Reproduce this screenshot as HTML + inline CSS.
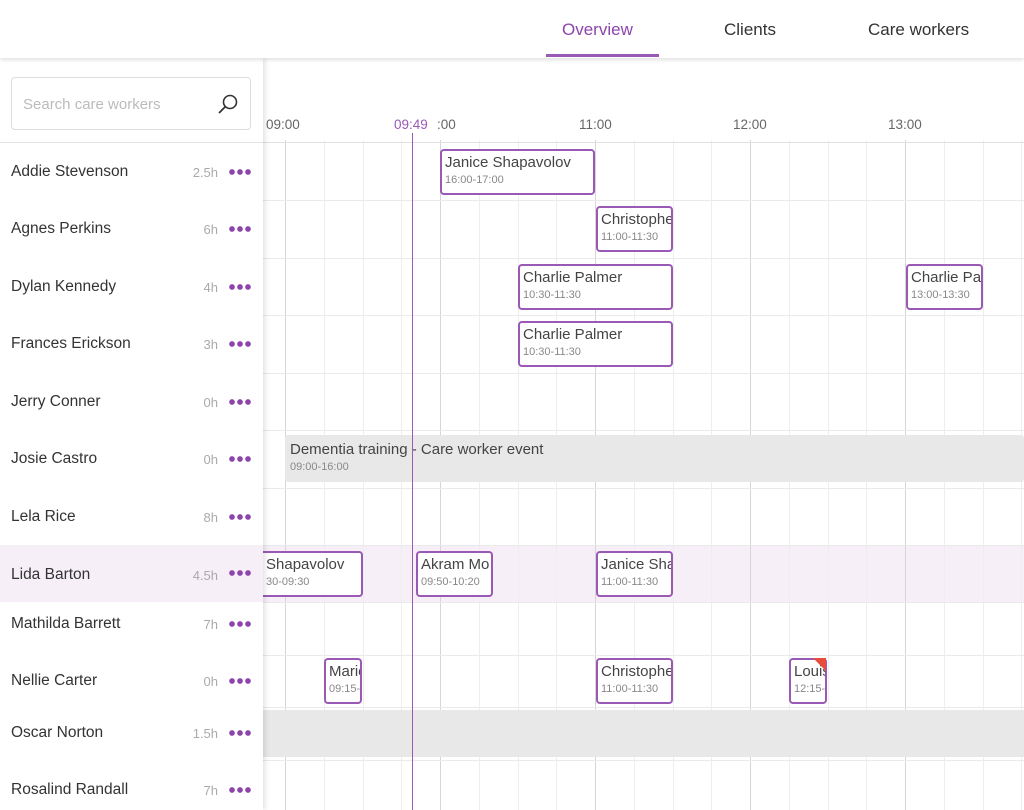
<!DOCTYPE html>
<html><head><style>
*{margin:0;padding:0;box-sizing:border-box}
body{width:1024px;height:810px;overflow:hidden;background:#fff;font-family:"Liberation Sans",sans-serif;position:relative;color:#333}
.a{position:absolute}
.tab{position:absolute;top:20px;font-size:17px;color:#333}
.vl{position:absolute;top:140px;bottom:0;width:1px;background:#eee}
.hl{position:absolute;top:140px;bottom:0;width:1px;background:#d6d6d6}
.hr{position:absolute;left:262px;right:0;height:1px;background:#eaeaea}
.ev{position:absolute;height:46px;border:2px solid #9b59b6;border-radius:4px;background:#fff;overflow:hidden;white-space:nowrap;padding:3px 0 0 3px}
.ev b{font-weight:normal;font-size:15px;color:#444;display:block}
.ev i{font-style:normal;font-size:11px;color:#888;display:block;margin-top:3px}
.nm{position:absolute;left:11px;font-size:15.5px;color:#333;white-space:nowrap}
.hh{position:absolute;right:45px;font-size:13px;color:#aaa;text-align:right}
.dots{position:absolute;left:228px;width:24px;height:6px;background:radial-gradient(circle,#8e44ad 2.6px,transparent 3px) 0 0/8px 6px repeat-x}
.tk{position:absolute;top:117px;font-size:13.5px;color:#666}
</style></head><body>
<div class="a" style="left:0;top:0;width:1024px;height:58px;background:#fff;box-shadow:0 2px 4px rgba(0,0,0,.12);z-index:5"></div>
<div class="tab" style="left:562px;color:#8e44ad;z-index:6">Overview</div>
<div class="a" style="left:546px;top:54px;width:113px;height:3px;background:#9b59b6;z-index:6"></div>
<div class="tab" style="left:724px;z-index:6">Clients</div>
<div class="tab" style="left:868px;z-index:6">Care workers</div>

<div class="a" style="left:262px;top:545px;right:0;height:57px;background:#f6eff8"></div>
<div class="hl" style="left:285px"></div><div class="hl" style="left:440px"></div><div class="hl" style="left:595px"></div><div class="hl" style="left:750px"></div><div class="hl" style="left:905px"></div>
<div class="vl" style="left:324px"></div><div class="vl" style="left:363px"></div><div class="vl" style="left:401px"></div>
<div class="vl" style="left:479px"></div><div class="vl" style="left:518px"></div><div class="vl" style="left:556px"></div>
<div class="vl" style="left:634px"></div><div class="vl" style="left:673px"></div><div class="vl" style="left:711px"></div>
<div class="vl" style="left:789px"></div><div class="vl" style="left:828px"></div><div class="vl" style="left:866px"></div>
<div class="vl" style="left:944px"></div><div class="vl" style="left:983px"></div><div class="vl" style="left:1021px"></div>
<div class="hr" style="top:142px;background:#e0e0e0"></div>
<div class="hr" style="top:200px"></div><div class="hr" style="top:258px"></div><div class="hr" style="top:315px"></div><div class="hr" style="top:373px"></div><div class="hr" style="top:430px"></div><div class="hr" style="top:488px"></div><div class="hr" style="top:545px"></div><div class="hr" style="top:602px"></div><div class="hr" style="top:655px"></div><div class="hr" style="top:707px"></div><div class="hr" style="top:760px"></div>

<div class="tk" style="left:266px">09:00</div>
<div class="tk" style="left:437px">:00</div>
<div class="tk" style="left:579px">11:00</div>
<div class="tk" style="left:733px">12:00</div>
<div class="tk" style="left:888px">13:00</div>
<div class="tk" style="left:394px;color:#9b59b6">09:49</div>

<div class="a" style="left:285px;top:435px;width:739px;height:47px;background:#e8e8e8;border-radius:3px;padding:6px 0 0 5px"><div style="font-size:15px;color:#444">Dementia training - Care worker event</div><div style="font-size:11px;color:#888;margin-top:3px">09:00-16:00</div></div>
<div class="a" style="left:262px;top:710px;width:762px;height:47px;background:#e8e8e8"></div>

<div class="ev" style="left:440px;top:149px;width:155px"><b>Janice Shapavolov</b><i>16:00-17:00</i></div>
<div class="ev" style="left:596px;top:206px;width:77px"><b>Christopher</b><i>11:00-11:30</i></div>
<div class="ev" style="left:518px;top:264px;width:155px"><b>Charlie Palmer</b><i>10:30-11:30</i></div>
<div class="ev" style="left:906px;top:264px;width:77px"><b>Charlie Palmer</b><i>13:00-13:30</i></div>
<div class="ev" style="left:518px;top:321px;width:155px"><b>Charlie Palmer</b><i>10:30-11:30</i></div>
<div class="ev" style="left:250px;top:551px;width:113px;padding-left:14px"><b>Shapavolov</b><i>30-09:30</i></div>
<div class="ev" style="left:416px;top:551px;width:77px"><b>Akram Mo</b><i>09:50-10:20</i></div>
<div class="ev" style="left:596px;top:551px;width:77px"><b>Janice Shapavolov</b><i>11:00-11:30</i></div>
<div class="ev" style="left:324px;top:658px;width:38px"><b>Marie</b><i>09:15-</i></div>
<div class="ev" style="left:596px;top:658px;width:77px"><b>Christopher</b><i>11:00-11:30</i></div>
<div class="ev" style="left:789px;top:658px;width:38px"><b>Louise</b><i>12:15-</i></div>
<div class="a" style="left:813px;top:658px;width:0;height:0;border-left:13px solid transparent;border-top:13px solid #e74c3c"></div>

<div class="a" style="left:412px;top:133px;width:1px;height:677px;background:#9b59b6"></div>

<div class="a" style="left:0;top:58px;width:263px;height:752px;background:#fff;box-shadow:2px 0 5px rgba(0,0,0,.12);z-index:3">
<div class="a" style="left:0;top:487px;width:263px;height:57px;background:#f6eff8"></div>
<div class="a" style="left:11px;top:19px;width:240px;height:53px;border:1px solid #ddd;border-radius:4px;padding:18px 0 0 11px;font-size:15px;color:#bbb">Search care workers
<svg class="a" style="left:205px;top:15px" width="22" height="22"><circle cx="13" cy="9" r="6.5" fill="none" stroke="#333" stroke-width="1.6"/><line x1="8.5" y1="13.5" x2="2" y2="20" stroke="#333" stroke-width="1.8"/></svg></div>
<div class="a" style="left:0;top:84px;width:263px;height:1px;background:#e5e5e5"></div>
</div>
<div style="position:absolute;left:0;top:0;width:263px;height:810px;z-index:4">
<div class="nm" style="top:163px">Addie Stevenson</div><div class="hh" style="top:165px">2.5h</div><div class="dots" style="top:169px"></div>
<div class="nm" style="top:220px">Agnes Perkins</div><div class="hh" style="top:222px">6h</div><div class="dots" style="top:226px"></div>
<div class="nm" style="top:278px">Dylan Kennedy</div><div class="hh" style="top:280px">4h</div><div class="dots" style="top:284px"></div>
<div class="nm" style="top:335px">Frances Erickson</div><div class="hh" style="top:337px">3h</div><div class="dots" style="top:341px"></div>
<div class="nm" style="top:393px">Jerry Conner</div><div class="hh" style="top:395px">0h</div><div class="dots" style="top:399px"></div>
<div class="nm" style="top:450px">Josie Castro</div><div class="hh" style="top:452px">0h</div><div class="dots" style="top:456px"></div>
<div class="nm" style="top:508px">Lela Rice</div><div class="hh" style="top:510px">8h</div><div class="dots" style="top:514px"></div>
<div class="nm" style="top:566px">Lida Barton</div><div class="hh" style="top:568px">4.5h</div><div class="dots" style="top:570px"></div>
<div class="nm" style="top:615px">Mathilda Barrett</div><div class="hh" style="top:617px">7h</div><div class="dots" style="top:621px"></div>
<div class="nm" style="top:672px">Nellie Carter</div><div class="hh" style="top:674px">0h</div><div class="dots" style="top:678px"></div>
<div class="nm" style="top:724px">Oscar Norton</div><div class="hh" style="top:726px">1.5h</div><div class="dots" style="top:730px"></div>
<div class="nm" style="top:781px">Rosalind Randall</div><div class="hh" style="top:783px">7h</div><div class="dots" style="top:787px"></div>
</div>
</body></html>
